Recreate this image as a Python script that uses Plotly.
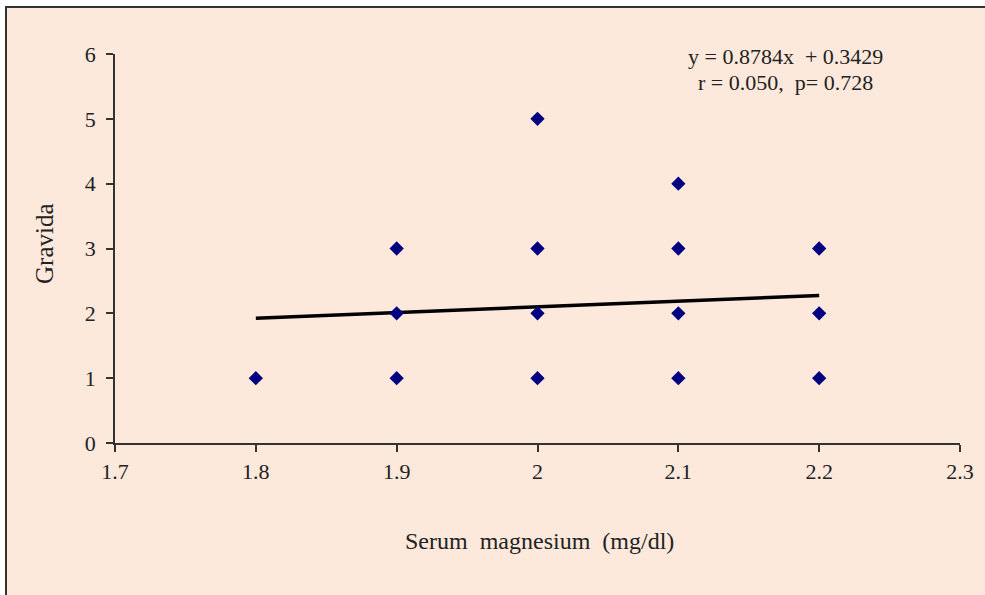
import plotly.graph_objects as go

# Data
magnesium = [1.8, 1.9, 1.9, 1.9, 2.0, 2.0, 2.0, 2.0, 2.1, 2.1, 2.1, 2.1, 2.2, 2.2, 2.2]
gravida   = [1,   1,   2,   3,   1,   2,   3,   5,   1,   2,   3,   4,   1,   2,   3]
slope = 0.8784
intercept = 0.3429
fit_x = [min(magnesium), max(magnesium)]
fit_y = [slope * v + intercept for v in fit_x]
x_ticks = [1.7, 1.8, 1.9, 2.0, 2.1, 2.2, 2.3]
x_tick_labels = ["1.7", "1.8", "1.9", "2", "2.1", "2.2", "2.3"]
y_ticks = [0, 1, 2, 3, 4, 5, 6]

W, H = 985, 595
L, R, T, B = 115, 25, 54, 152
pw, ph = W - L - R, H - T - B

def px(xp):
    return (xp - L) / pw

def py(yp):
    return (H - B - yp) / ph

PEACH = "#FDE9DB"
FONT = "Liberation Serif"
TXT = "#222"

fig = go.Figure()
fig.add_trace(go.Scatter(
    x=fit_x, y=fit_y, mode="lines",
    line=dict(color="black", width=3.5), showlegend=False, hoverinfo="skip"))
fig.add_trace(go.Scatter(
    x=magnesium, y=gravida, mode="markers",
    marker=dict(symbol="diamond", size=11, color="#000080"),
    showlegend=False))

axis_common = dict(showgrid=False, zeroline=False, showline=True, linecolor="#333",
                   linewidth=1.5, ticks="outside", ticklen=7, tickcolor="#333",
                   tickwidth=1.5, tickfont=dict(family=FONT, size=22, color=TXT))

def note(text, xp, yp, size, angle=0):
    return dict(text=text, xref="paper", yref="paper", x=px(xp), y=py(yp),
                xanchor="center", yanchor="middle", showarrow=False,
                textangle=angle, font=dict(family=FONT, size=size, color=TXT))

fig.update_layout(
    width=W, height=H,
    margin=dict(l=L, r=R, t=T, b=B, autoexpand=False),
    paper_bgcolor="white",
    plot_bgcolor="rgba(0,0,0,0)",
    font=dict(family=FONT, size=20, color=TXT),
    xaxis=dict(range=[1.7, 2.3], tickvals=x_ticks, ticktext=x_tick_labels,
               ticklabelstandoff=1, **axis_common),
    yaxis=dict(range=[0, 6], tickvals=y_ticks, ticklabelstandoff=6, **axis_common),
    shapes=[dict(type="rect", xref="paper", yref="paper", layer="below",
                 x0=px(6), x1=px(W + 10), y0=py(H + 10), y1=py(7),
                 fillcolor=PEACH, line=dict(color="#333", width=2))],
    annotations=[
        note("Serum  magnesium  (mg/dl)", 539, 541, 24),
        note("Gravida", 44, 244, 25, -90),
        note("y = 0.8784x  + 0.3429", 785, 56, 22),
        note("r = 0.050,  p= 0.728", 785, 82, 22),
    ],
)

fig.write_html("out.html", config={"displayModeBar": False},
               post_script="document.body.style.margin='0';document.body.style.overflow='hidden';")
